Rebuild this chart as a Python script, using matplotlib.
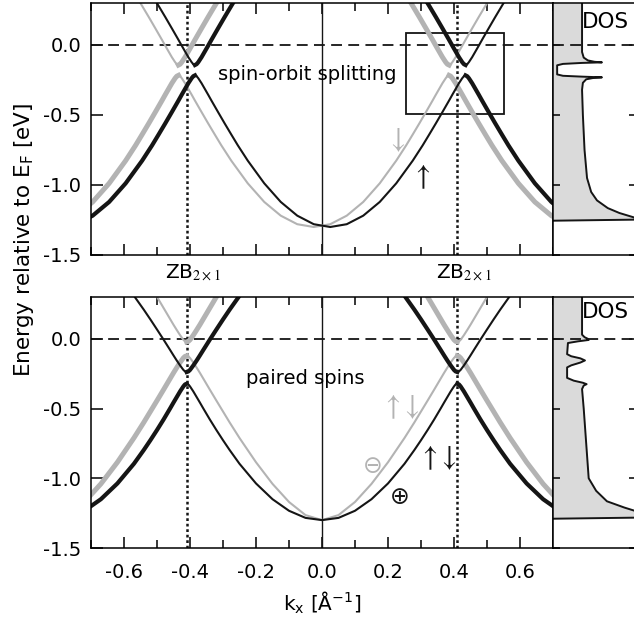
import numpy as np
import matplotlib.pyplot as plt
from matplotlib.patches import Rectangle

plt.rcParams['font.family'] = ['DejaVu Sans']
plt.rcParams['font.size'] = 14
plt.rcParams['axes.linewidth'] = 1.1
plt.rcParams['axes.unicode_minus'] = False

BLACK = '#151515'
GRAY = '#b3b3b3'

zb = 0.41  # zone boundary ZB 2x1 [1/A]

# distance q from the band centre, out to the zone boundary;
# the back-folded branch is the mirror image about the ZB
q_band = [0.0, 0.05, 0.10, 0.15, 0.20, 0.25, 0.28, 0.30, 0.32, 0.34, 0.36,
          0.37, 0.38, 0.39, 0.40, 0.405, 0.41]
q_upper = q_band[5:]

# top panel: spin-orbit split, same band for both spins shifted in k
top_lower = [-1.300, -1.280, -1.219, -1.121, -0.988, -0.826, -0.717, -0.639,
             -0.560, -0.479, -0.397, -0.355, -0.314, -0.273, -0.237, -0.223, -0.217]
top_upper = [0.466, 0.357, 0.279, 0.200, 0.119, 0.037, -0.005, -0.046,
             -0.087, -0.123, -0.137, -0.143]
top_shift = [0.025, -0.025]  # spin up (black), spin down (gray)

# bottom panel: paired spins, bonding (black) and antibonding (gray)
bot_black_lower = [-1.300, -1.284, -1.233, -1.150, -1.037, -0.896, -0.797, -0.727,
                   -0.654, -0.578, -0.498, -0.457, -0.417, -0.377, -0.341, -0.327, -0.322]
bot_black_upper = [0.309, 0.209, 0.139, 0.067, -0.006, -0.081, -0.119, -0.156,
                   -0.191, -0.223, -0.234, -0.238]
bot_gray_lower = [-1.300, -1.264, -1.170, -1.040, -0.885, -0.711, -0.599, -0.521,
                  -0.443, -0.364, -0.284, -0.244, -0.206, -0.169, -0.137, -0.126, -0.122]
bot_gray_upper = [0.572, 0.458, 0.380, 0.301, 0.221, 0.141, 0.101, 0.063,
                  0.026, -0.007, -0.018, -0.022]

# density of states curves (energy, DOS in panel-width units)
dos_top_E = [0.30, -0.05, -0.09, -0.11, -0.12, -0.124, -0.128, -0.135, -0.145,
             -0.21, -0.22, -0.226, -0.231, -0.236, -0.245, -0.27, -0.32, -0.5,
             -0.75, -0.95, -1.05, -1.11, -1.165, -1.20, -1.236, -1.245, -1.255]
dos_top = [0.35, 0.35, 0.37, 0.42, 0.50, 0.59, 0.35, 0.12, 0.05,
           0.05, 0.12, 0.35, 0.59, 0.48, 0.40, 0.36, 0.35, 0.36,
           0.38, 0.41, 0.46, 0.53, 0.66, 0.80, 1.00, 1.30, 0.0]
dos_bot_E = [0.30, 0.03, 0.012, 0.0, -0.008, -0.018, -0.03, -0.11, -0.125, -0.14,
             -0.155, -0.17, -0.19, -0.205, -0.28, -0.30, -0.315, -0.325, -0.335,
             -0.36, -0.5, -0.75, -1.0, -1.09, -1.165, -1.21, -1.236, -1.28, -1.29]
dos_bot = [0.35, 0.35, 0.38, 0.42, 0.43, 0.30, 0.18, 0.17, 0.22, 0.33,
           0.385, 0.33, 0.22, 0.17, 0.17, 0.25, 0.36, 0.405, 0.37,
           0.35, 0.37, 0.40, 0.43, 0.52, 0.65, 0.86, 1.00, 1.30, 0.0]

xticks = [-0.6, -0.4, -0.2, 0.0, 0.2, 0.4, 0.6]
yticks = [-1.5, -1.0, -0.5, 0.0]


def draw_band(ax, k0, lower, upper, color, lw_thin, lw_thick):
    q = np.array(q_band)
    lo = np.array(lower)
    qu = np.array(q_upper)
    up = np.array(upper)
    # lower band inside the zone (main branch, thin)
    ax.plot(np.concatenate([k0 - q[::-1], k0 + q[1:]]),
            np.concatenate([lo[::-1], lo[1:]]), color=color, lw=lw_thin)
    for s in (-1, 1):
        ax.plot(k0 + s * (2 * zb - q), lo, color=color, lw=lw_thick)
        ax.plot(k0 + s * qu, up, color=color, lw=lw_thick)
        ax.plot(k0 + s * (2 * zb - qu), up, color=color, lw=lw_thin)


def style_main(ax, show_x):
    ax.set_xlim(-0.7, 0.7)
    ax.set_ylim(-1.5, 0.3)
    ax.set_xticks(xticks)
    ax.set_xticks(np.arange(-0.7, 0.71, 0.1), minor=True)
    ax.set_yticks(yticks)
    ax.set_yticklabels(['%.1f' % v for v in yticks])
    ax.set_xticklabels(['%.1f' % v for v in xticks] if show_x else [])
    ax.tick_params(which='both', direction='in', top=True, width=1.1)
    ax.tick_params(which='major', length=8)
    ax.tick_params(which='minor', length=6)
    ax.tick_params(axis='x', which='major', pad=11)
    ax.tick_params(axis='y', which='major', length=8.5, pad=7)
    ax.axhline(0, color=BLACK, lw=1.3, dashes=(6, 3.5))
    for k in (-zb, zb):
        ax.axvline(k, color=BLACK, lw=1.8, dashes=(1.1, 1.1))
    ax.axvline(0, color=BLACK, lw=1.0)


def style_dos(ax, E, d, label_E):
    ax.set_xlim(0, 1)
    ax.set_ylim(-1.5, 0.3)
    ax.fill_betweenx(E, 0, d, color='#dadada', lw=0)
    ax.plot(d, E, color=BLACK, lw=1.4)
    ax.axhline(0, color=BLACK, lw=1.3, dashes=(6, 3.5))
    ax.set_xticks([])
    ax.set_yticks(yticks)
    ax.set_yticklabels([])
    ax.tick_params(axis='y', direction='in', left=True, right=True, length=5, width=1.1)
    ax.text(0.35, label_E, 'DOS', ha='left', va='center', fontsize=15.5)


fig = plt.figure(figsize=(6.34, 6.26), dpi=100)
W, H = 634.0, 626.0
ax1 = fig.add_axes([91 / W, 1 - 255 / H, 462 / W, 252 / H])
ax2 = fig.add_axes([91 / W, 1 - 548 / H, 462 / W, 251 / H])
dos1 = fig.add_axes([553 / W, 1 - 255 / H, 83 / W, 252 / H])
dos2 = fig.add_axes([553 / W, 1 - 548 / H, 83 / W, 251 / H])

arrow_kw = dict(ha='center', va='center', fontsize=21, math_fontfamily='stix')

# top panel
style_main(ax1, False)
draw_band(ax1, top_shift[1], top_lower, top_upper, GRAY, 1.5, 3.6)
draw_band(ax1, top_shift[0], top_lower, top_upper, BLACK, 1.5, 3.0)
ax1.add_patch(Rectangle((0.256, -0.493), 0.295, 0.579, fill=False, ec=BLACK, lw=1.3))
ax1.text(-0.045, -0.214, 'spin-orbit splitting', ha='center', va='center')
ax1.text(0.222, -0.68, r'$\downarrow$', color=GRAY, **arrow_kw)
ax1.text(0.300, -0.94, r'$\uparrow$', color=BLACK, **arrow_kw)
for k in (-zb, zb):
    ax1.text(k - 0.066, -1.625, r'ZB$_{\mathrm{2\times1}}$', ha='left', va='center',
             fontsize=14.5, math_fontfamily='stix', clip_on=False)

# bottom panel
style_main(ax2, True)
draw_band(ax2, 0.0, bot_gray_lower, bot_gray_upper, GRAY, 1.5, 3.6)
draw_band(ax2, 0.0, bot_black_lower, bot_black_upper, BLACK, 1.5, 3.0)
ax2.text(-0.05, -0.286, 'paired spins', ha='center', va='center')
ax2.text(0.238, -0.486, r'$\uparrow\!\downarrow$', color=GRAY, **arrow_kw)
ax2.text(0.350, -0.857, r'$\uparrow\!\downarrow$', color=BLACK, **arrow_kw)
ax2.text(0.153, -0.914, '\u2296', color=GRAY, ha='center', va='center', fontsize=17)
ax2.text(0.235, -1.135, '\u2295', color=BLACK, ha='center', va='center', fontsize=17)

style_dos(dos1, dos_top_E, dos_top, 0.165)
style_dos(dos2, dos_bot_E, dos_bot, 0.19)

fig.text(322 / W, 1 - 603 / H, 'k$_\\mathregular{x}$ [\u00c5$^\\mathregular{-1}$]',
         ha='center', va='center', fontsize=14.5)
fig.text(24 / W, 1 - 240 / H, r'Energy relative to E$_\mathregular{F}$ [eV]',
         rotation=90, ha='center', va='center', fontsize=15.5)

fig.savefig('out.png', dpi=100)
